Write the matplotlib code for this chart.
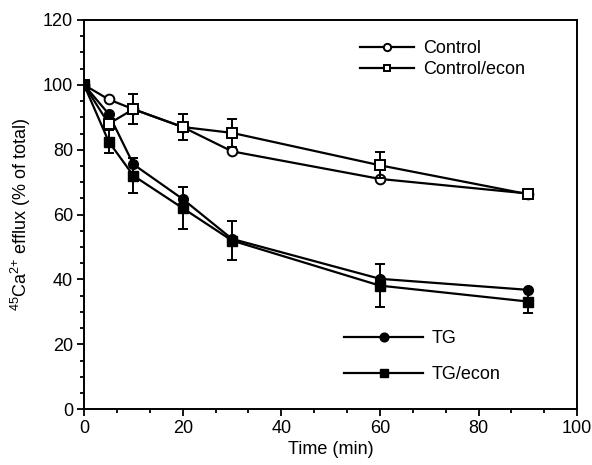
import matplotlib
matplotlib.use('Agg')
import matplotlib.pyplot as plt
from matplotlib.ticker import MultipleLocator

plt.rcParams['font.family'] = ['Liberation Sans', 'DejaVu Sans']
plt.rcParams['mathtext.default'] = 'regular'

# tiempos en minutos
tiempo = [0, 5, 10, 20, 30, 60, 90]

# control
control = [100, 95.5, 92.5, 87, 79.5, 71, 66.5]
control_econ = [100, 88, 92.5, 87, 85.2, 75.2, 66.3]
control_econ_err = [0, 0, 4.7, 3.9, 4.3, 4.0, 1.0]

# tapsigargina
tg = [100, 91, 75.5, 64.8, 52.5, 40.2, 36.8]
tg_econ = [100, 82.5, 72, 62, 52, 38.1, 33.2]
tg_econ_err = [0, 3.6, 5.4, 6.4, 6.0, 6.7, 3.6]

fs = 13

fig, ax = plt.subplots(figsize=(5.92, 4.65), dpi=100)
fig.subplots_adjust(left=0.142, right=0.975, top=0.957, bottom=0.12)

lw = 1.6
l1, = ax.plot(tiempo, control, '-o', c='black', lw=lw, ms=7, mfc='white', mec='black', mew=1.4, zorder=3)
l2 = ax.errorbar(tiempo, control_econ, yerr=control_econ_err, fmt='-s', c='black', lw=lw, ms=6.5,
                 mfc='white', mec='black', mew=1.4, capsize=3.5, elinewidth=1.4, capthick=1.4, zorder=3)
l3, = ax.plot(tiempo, tg, '-o', c='black', lw=lw, ms=7, zorder=3)
l4 = ax.errorbar(tiempo, tg_econ, yerr=tg_econ_err, fmt='-s', c='black', lw=lw, ms=6.5,
                 capsize=3.5, elinewidth=1.4, capthick=1.4, zorder=3)

ax.set_xlim(0, 100)
ax.set_ylim(0, 120)
ax.xaxis.set_major_locator(MultipleLocator(20))
ax.xaxis.set_minor_locator(MultipleLocator(20 / 3))
ax.yaxis.set_major_locator(MultipleLocator(20))
ax.yaxis.set_minor_locator(MultipleLocator(5))
ax.tick_params(which='both', direction='out', width=1.3, labelsize=fs, pad=3)
ax.tick_params(which='major', length=5)
ax.tick_params(which='minor', length=3)
for s in ax.spines.values():
    s.set_linewidth(1.4)

ax.set_xlabel('Time (min)', fontsize=fs, labelpad=3)
ax.set_ylabel('$^{45}$Ca$^{2{+}}$ efflux (% of total)', fontsize=fs, labelpad=7)

# leyendas
leg1 = ax.legend([l1, l2[0]], ['Control', 'Control/econ'], loc='upper left', bbox_to_anchor=(0.527, 0.99),
                 frameon=False, fontsize=fs, handlelength=3.0, handletextpad=0.5, labelspacing=0.22,
                 markerscale=0.75)
ax.add_artist(leg1)
ax.legend([l3, l4[0]], ['TG', 'TG/econ'], loc='lower left', bbox_to_anchor=(0.495, 0.025),
          frameon=False, fontsize=fs, handlelength=4.35, handletextpad=0.5, labelspacing=1.05,
          markerscale=0.9)

plt.savefig('out.png', dpi=100)
